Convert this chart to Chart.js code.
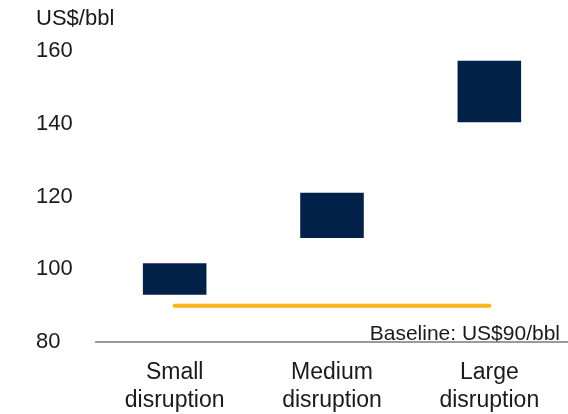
<!DOCTYPE html>
<html>
<head>
<meta charset="utf-8">
<script src="https://cdn.jsdelivr.net/npm/chart.js@4.4.1/dist/chart.umd.min.js"></script>
<style>
  html, body { margin: 0; padding: 0; background: #fff; }
  #wrap { width: 568px; height: 414px; }
</style>
</head>
<body>
<div id="wrap"><canvas id="myChart"></canvas></div>
<script>
const categories = [['Small', 'disruption'], ['Medium', 'disruption'], ['Large', 'disruption']];
const lows = [93, 108.6, 140.5];
const highs = [101.7, 121.1, 157.4];
const baseline = [90, 90, 90];
const yTicks = [80, 100, 120, 140, 160];
const unitLabel = 'US$/bbl';
const baselineLabel = 'Baseline: US$90/bbl';

const FONT = "'Liberation Sans', Arial, Helvetica, sans-serif";
const TEXT = '#1a1a1a';

// text sitting on the x axis, right side
const baselineText = {
    id: 'baselineText',
    afterDatasetsDraw(chart) {
        const ctx = chart.ctx;
        const y = chart.scales.y.getPixelForValue(80);
        ctx.save();
        ctx.font = '21px ' + FONT;
        ctx.fillStyle = TEXT;
        ctx.textAlign = 'right';
        ctx.textBaseline = 'alphabetic';
        ctx.fillText(baselineLabel, chart.chartArea.right - 8, y - 2);
        ctx.restore();
    }
};

const ctx = document.querySelector('#myChart').getContext('2d');
const myChart = new Chart(ctx, {
    type: 'bar',
    data: {
        labels: categories,
        datasets: [
            {
                type: 'bar',
                data: lows.map((v, i) => [v, highs[i]]),
                backgroundColor: '#022249',
                borderWidth: 0,
                barPercentage: 0.404,
                categoryPercentage: 1,
                order: 2
            },
            {
                type: 'line',
                data: baseline,
                borderColor: '#F9B417',
                borderWidth: 4,
                borderCapStyle: 'round',
                pointRadius: 0,
                fill: false,
                order: 1
            }
        ]
    },
    options: {
        responsive: true,
        maintainAspectRatio: false,
        animation: false,
        layout: { padding: { left: 36, right: 0, top: 0, bottom: 0 } },
        plugins: {
            legend: { display: false },
            tooltip: { enabled: false },
            title: {
                display: true,
                text: unitLabel,
                align: 'start',
                color: TEXT,
                font: { family: FONT, size: 22, weight: 'normal' },
                padding: { top: 6, bottom: 19 }
            }
        },
        scales: {
            y: {
                min: 80,
                max: 160,
                afterBuildTicks: (scale) => { scale.ticks = yTicks.map(v => ({ value: v })); },
                afterFit: (scale) => { scale.width = 60; },
                grid: { display: false, drawTicks: false },
                border: { display: false },
                ticks: {
                    crossAlign: 'far',
                    color: TEXT,
                    font: { family: FONT, size: 22 }
                }
            },
            x: {
                grid: { display: false, drawTicks: false },
                border: { display: true, color: '#9a9a9a', width: 2 },
                afterFit: (scale) => { scale.height = 72; },
                ticks: {
                    padding: 17,
                    color: TEXT,
                    maxRotation: 0,
                    font: { family: FONT, size: 23, lineHeight: 1.2 }
                }
            }
        }
    },
    plugins: [baselineText]
});
</script>
</body>
</html>
